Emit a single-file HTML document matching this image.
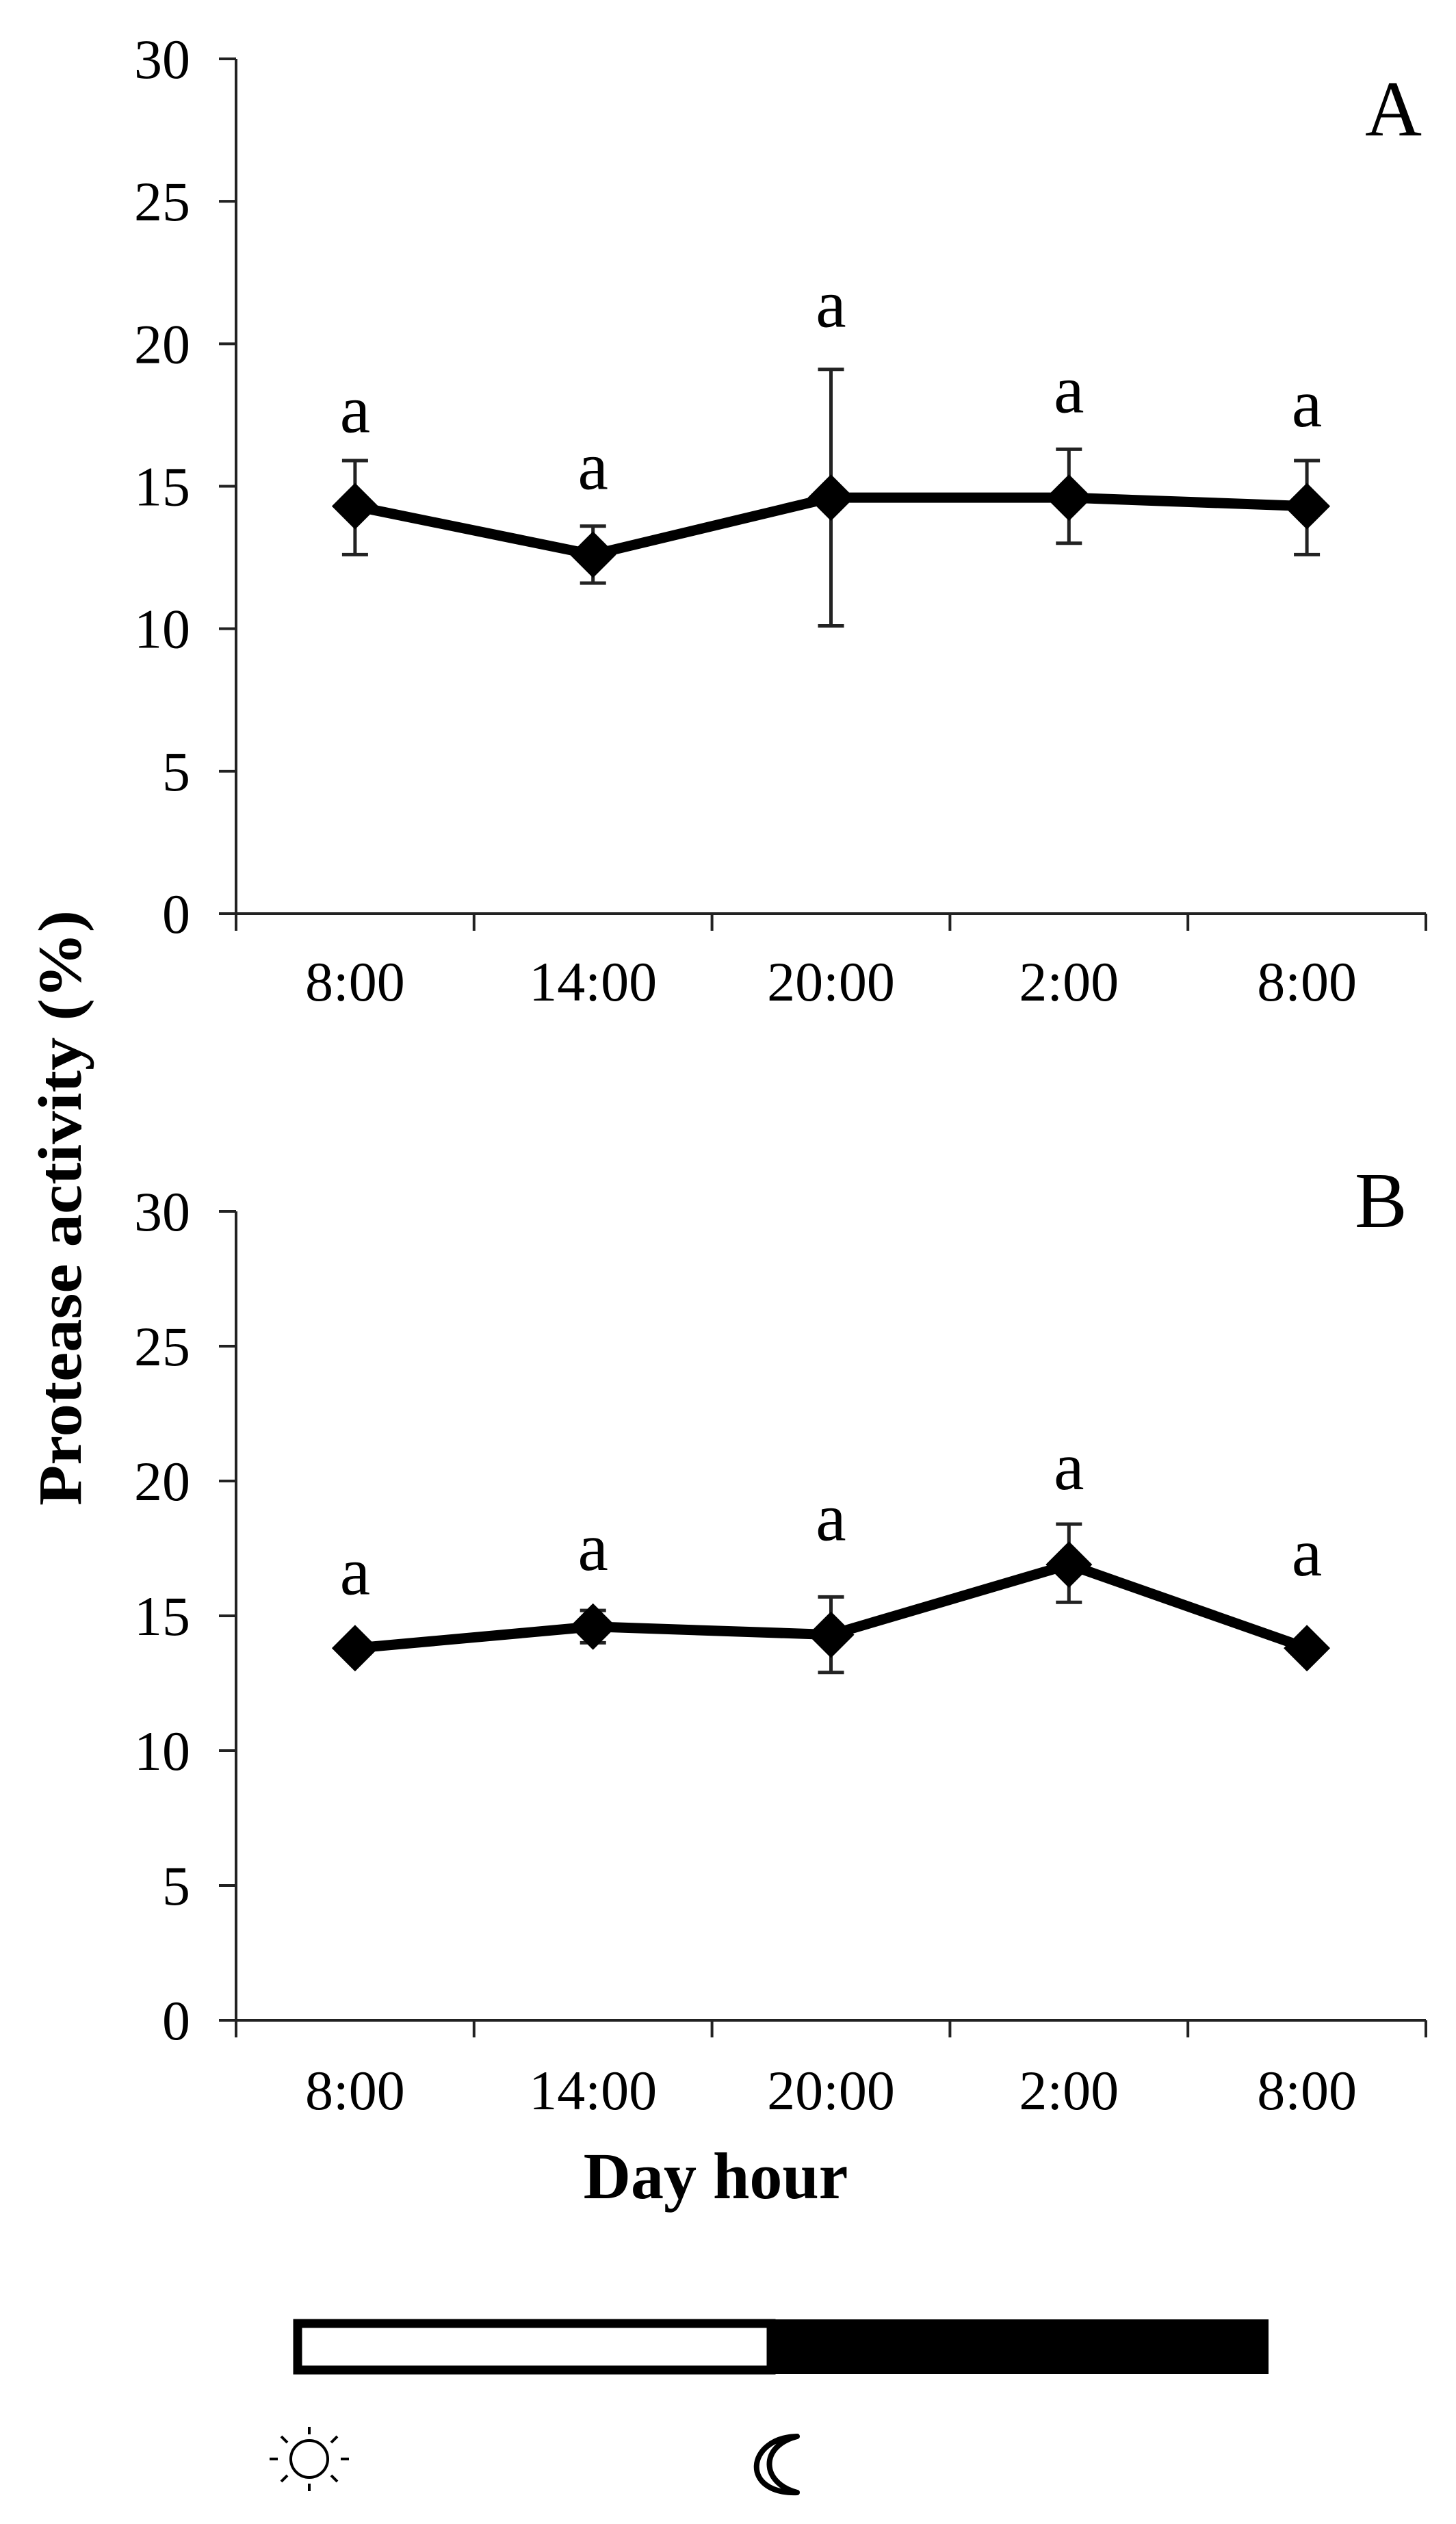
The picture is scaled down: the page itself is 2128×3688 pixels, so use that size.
<!DOCTYPE html>
<html><head><meta charset="utf-8">
<style>
html,body{margin:0;padding:0;background:#fff;}
svg{display:block;}
text{font-family:"Liberation Serif",serif;fill:#000;}
</style></head>
<body>
<svg id="fig" width="2128" height="3688" viewBox="0 0 2128 3688" xmlns="http://www.w3.org/2000/svg">
  <text transform="translate(118,1765) rotate(-90)" text-anchor="middle" font-size="90" font-weight="bold" textLength="870" lengthAdjust="spacingAndGlyphs">Protease activity (%)</text>
  <text x="1046" y="3212" text-anchor="middle" font-size="96" font-weight="bold">Day hour</text>
  <g>
    <rect x="435" y="3395" width="692" height="68" fill="#fff" stroke="#000" stroke-width="13"/>
    <rect x="1124" y="3389" width="730" height="80" fill="#000"/>
  </g>
  <g stroke="#000" stroke-width="4" fill="none">
    <circle cx="452" cy="3593" r="27"/>
    <line x1="452" y1="3546" x2="452" y2="3557"/><line x1="452" y1="3629" x2="452" y2="3640"/>
    <line x1="394" y1="3593" x2="406" y2="3593"/><line x1="498" y1="3593" x2="510" y2="3593"/>
    <line x1="411" y1="3560" x2="420" y2="3569"/><line x1="484" y1="3617" x2="493" y2="3626"/>
    <line x1="493" y1="3560" x2="484" y2="3569"/><line x1="420" y1="3617" x2="411" y2="3626"/>
  </g>
  <path d="M1165 3560 C1090 3562 1082 3645 1165 3642 C1112 3628 1110 3574 1165 3560 Z" fill="none" stroke="#000" stroke-width="8" stroke-linejoin="round"/>
  <g id="chartA"></g>
  <g id="chartB"></g>
</svg>
<script>
const categories = ["8:00","14:00","20:00","2:00","8:00"];
const yTicks = [0,5,10,15,20,25,30];
const meanA = [14.3,12.6,14.6,14.6,14.3];
const lowA  = [12.6,11.6,10.1,13.0,12.6];
const highA = [15.9,13.6,19.1,16.3,15.9];
const letterA = ["a","a","a","a","a"];
const letterPosA = [16.9,14.9,20.6,17.6,17.1];
const meanB = [13.8,14.6,14.3,16.9,13.8];
const lowB  = [13.5,14.0,12.9,15.5,13.5];
const highB = [14.1,15.2,15.7,18.4,14.1];
const letterB = ["a","a","a","a","a"];
const letterPosB = [15.8,16.7,17.8,19.7,16.5];

const NS="http://www.w3.org/2000/svg";
function mk(parent,tag,attrs){const e=document.createElementNS(NS,tag);for(const k in attrs)e.setAttribute(k,attrs[k]);parent.appendChild(e);return e;}

function drawChart(g,cfg){
  const x0=345,x1=2084,yTop=cfg.yTop,yBot=cfg.yBot,ymax=30;
  const band=(x1-x0)/categories.length;
  const X=i=>x0+band*(i+0.5);
  const Y=v=>yBot-(v/ymax)*(yBot-yTop);
  const ya=mk(g,'line',{x1:x0,y1:yTop,x2:x0,y2:yBot+25,stroke:'#222','stroke-width':4});
  
  
  const xa=mk(g,'line',{x1:x0-25,y1:yBot,x2:x1,y2:yBot,stroke:'#222','stroke-width':4});
  
  
  yTicks.forEach(t=>{
    const tk=mk(g,'line',{x1:x0-25,y1:Y(t),x2:x0,y2:Y(t),stroke:'#222','stroke-width':4});
    
    
    const lb=mk(g,'text',{x:278,y:Y(t)+28,'text-anchor':'end','font-size':82});
    lb.textContent=t;
    
    
  });
  for(let i=0;i<=categories.length;i++){
    const tk=mk(g,'line',{x1:x0+band*i,y1:yBot,x2:x0+band*i,y2:yBot+25,stroke:'#222','stroke-width':4});
    
    
  }
  categories.forEach((c,i)=>{
    const lb=mk(g,'text',{x:X(i),y:cfg.labelY,'text-anchor':'middle','font-size':82});
    lb.textContent=c;
    
    
  });
  cfg.mean.forEach((m,i)=>{
    const eb=mk(g,'path',{d:`M${X(i)} ${Y(cfg.low[i])}V${Y(cfg.high[i])}M${X(i)-19} ${Y(cfg.high[i])}H${X(i)+19}M${X(i)-19} ${Y(cfg.low[i])}H${X(i)+19}`,stroke:'#222','stroke-width':5,fill:'none'});
    
    
  });
  const pl=mk(g,'polyline',{points:cfg.mean.map((m,i)=>X(i)+','+Y(m)).join(' '),fill:'none',stroke:'#000','stroke-width':15,'stroke-linejoin':'round'});
  
  
  cfg.mean.forEach((m,i)=>{
    const cx=X(i),cy=Y(m),r=34;
    const d=mk(g,'polygon',{points:`${cx},${cy-r} ${cx+r},${cy} ${cx},${cy+r} ${cx-r},${cy}`,fill:'#000'});
    
    
    const lt=mk(g,'text',{x:cx,y:Y(cfg.letterPos[i]),'text-anchor':'middle','font-size':100});
    lt.textContent=cfg.letters[i];
    
    
  });
  const pn=mk(g,'text',{x:cfg.panelX,y:cfg.panelY,'font-size':115});
  pn.textContent=cfg.panel;
  
  
}
drawChart(document.getElementById('chartA'),{yTop:86,yBot:1335,labelY:1462,mean:meanA,low:lowA,high:highA,letters:letterA,letterPos:letterPosA,panel:"A",panelX:1995,panelY:198});
drawChart(document.getElementById('chartB'),{yTop:1770,yBot:2952,labelY:3082,mean:meanB,low:lowB,high:highB,letters:letterB,letterPos:letterPosB,panel:"B",panelX:1980,panelY:1793});
</script>
</body></html>
